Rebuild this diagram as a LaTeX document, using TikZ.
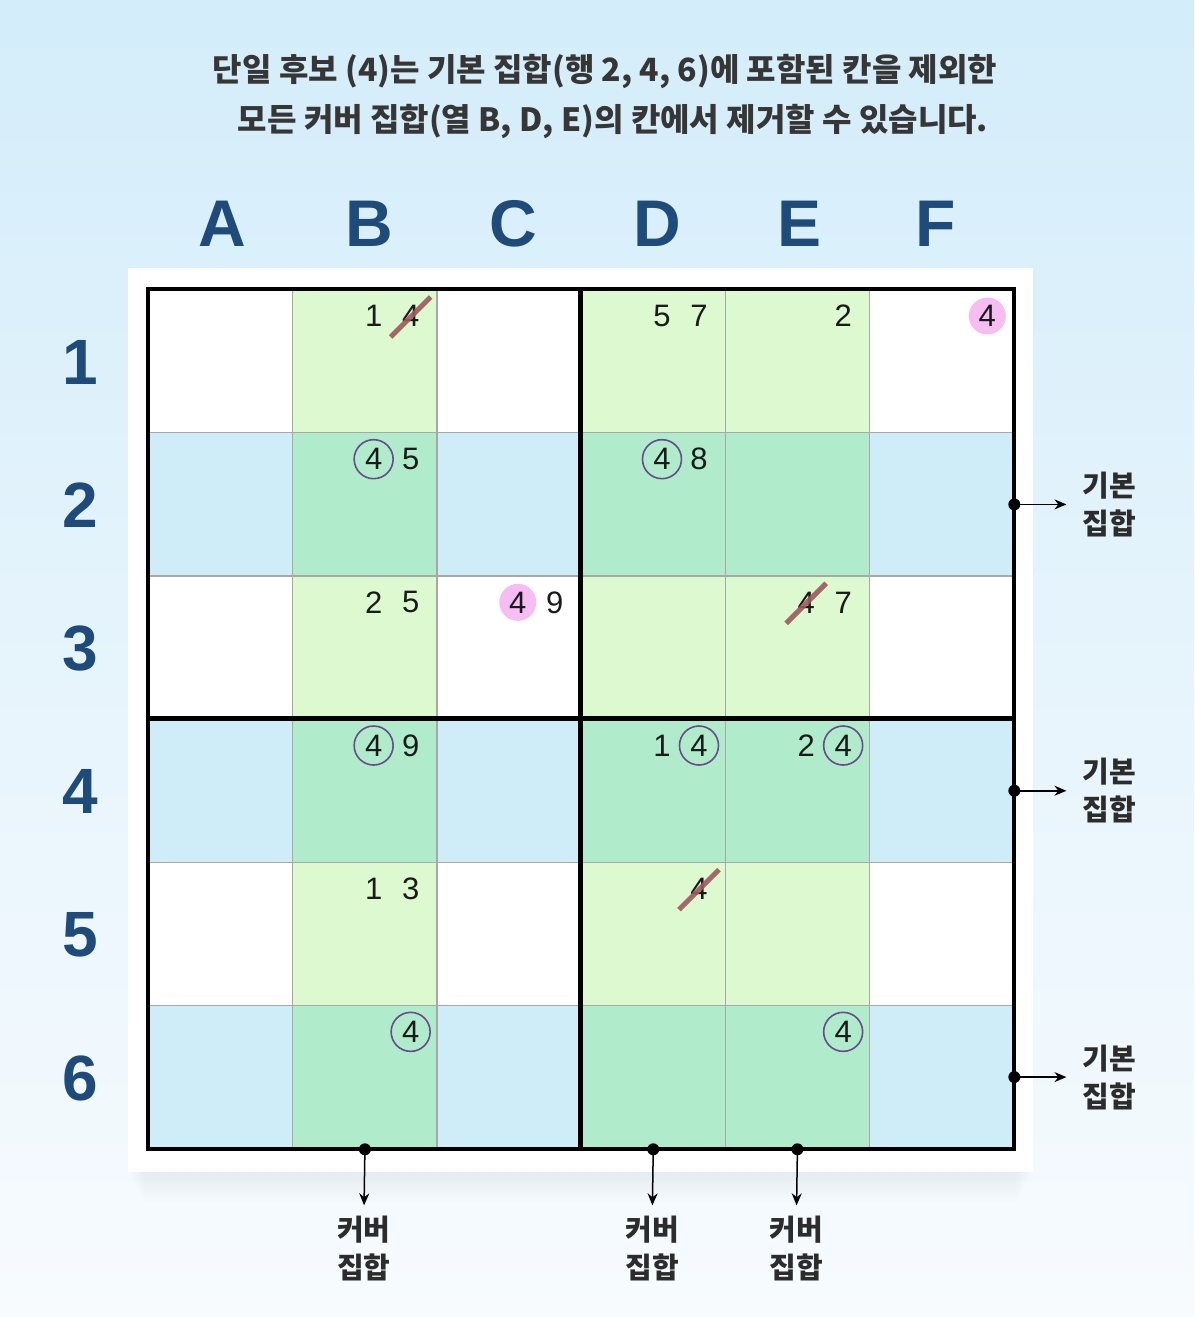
\documentclass[tikz,border=0pt]{standalone}
\usepackage{fontspec}
\setmainfont{Liberation Sans}
\newfontfamily\kr{Noto Sans CJK KR}
\usetikzlibrary{calc,arrows.meta}
\definecolor{bgtop}{HTML}{D3EDFA}
\definecolor{bgmid}{HTML}{E6F4FC}
\definecolor{bgbot}{HTML}{F7FBFE}
\definecolor{fnn}{HTML}{FFFFFF}
\definecolor{fnc}{HTML}{DDF9D0}
\definecolor{fbn}{HTML}{CFEDF8}
\definecolor{fbc}{HTML}{B0ECCC}
\definecolor{gridc}{HTML}{A8A8A8}
\definecolor{headc}{HTML}{1E4B7A}
\definecolor{ringc}{HTML}{6A4A8C}
\definecolor{pinkc}{HTML}{F5BDF2}
\definecolor{strikec}{HTML}{A0585C}
\definecolor{textc}{HTML}{1A1A1A}
\tikzset{
  cell/.style={draw=gridc, line width=1.3pt, anchor=north west, inner sep=0pt,
    minimum width=144.17pt, minimum height=143.17pt},
  boxline/.style={line width=4.2pt, black},
  cand/.style={font=\fontsize{31}{31}\selectfont, inner sep=0pt, text=textc},
  circ/.style={cand, circle, draw=ringc, line width=1.6pt, minimum size=39pt},
  pinkmark/.style={cand, circle, fill=pinkc, minimum size=37pt},
  strike/.style={strikec, line width=5pt, opacity=0.9},
  head/.style={font=\bfseries\fontsize{66}{66}\selectfont, text=headc, inner sep=0pt},
  rowhead/.style={font=\bfseries\fontsize{64}{64}\selectfont, text=headc, inner sep=0pt},
  krlabel/.style={font=\kr\bfseries\fontsize{29}{38}\selectfont, align=center, inner sep=0pt, text=textc!92},
  titletext/.style={font=\kr\bfseries\fontsize{32}{32}\selectfont, inner sep=0pt, text=textc!88},
  pointer/.style={-{Stealth[length=12pt,width=10pt]}, line width=1.5pt, black},
  dot/.style={circle, fill=black, inner sep=0pt, minimum size=12pt},
}
\begin{document}
\begin{tikzpicture}[x=1pt,y=-1pt]
\useasboundingbox (0,0) rectangle (1194,1317);
\shade[top color=bgtop, bottom color=bgbot, middle color=bgmid] (0,0) rectangle (1194,1317);
% title
\node[titletext] (t1) at (605,72) {단일 후보 (4)는 기본 집합(행 2, 4, 6)에 포함된 칸을 제외한};
\node[titletext] (t2) at (613,122) {모든 커버 집합(열 B, D, E)의 칸에서 제거할 수 있습니다.};
% panel shadow
\foreach \i in {1,...,14}
  \fill[black, opacity=0.0055] ({128+\i*1.2},{268+\i*2.2}) rectangle ({1033-\i*1.2},{1172+\i*2.2});
\fill[white] (128,268) rectangle (1033,1172);
% cells
\foreach \r/\rt [count=\ri from 0] in {1/n,2/b,3/n,4/b,5/n,6/b}
  \foreach \c/\ct [count=\ci from 0] in {A/n,B/c,C/n,D/c,E/c,F/n}
    \node[cell, fill=f\rt\ct] (\c\r) at ({148+\ci*144.17},{289+\ri*143.17}) {};
% thick lines
\draw[boxline] (D1.north west) -- (D6.south west);
\draw[boxline] (A4.north west) -- (F4.north east);
\draw[boxline] (A1.north west) rectangle (F6.south east);
% headers
\foreach \c/\dx in {A/2,B/4,C/4,D/4,E/2,F/-6}
  \node[head] (h\c) at ($(\c1.north)+(\dx,-65)$) {\c};
\foreach \r in {1,...,6}
  \node[rowhead] (r\r) at ($(A\r.west)+(-68,1)$) {\r};
% candidates
\newcommand\candR[4][cand]{\node[#1] (#2) at ($(#3.north east)+(-27,27)$) {#4};}
\newcommand\candL[4][cand]{\node[#1] (#2) at ($(#3.north east)+(-64,27)$) {#4};}
\candL{B1a}{B1}{1} \candR{B1b}{B1}{4}
\candL{D1a}{D1}{5} \candR{D1b}{D1}{7}
\candR{E1a}{E1}{2}
\candR[pinkmark]{F1a}{F1}{4}
\candL[circ]{B2a}{B2}{4} \candR{B2b}{B2}{5}
\candL[circ]{D2a}{D2}{4} \candR{D2b}{D2}{8}
\candL{B3a}{B3}{2} \candR{B3b}{B3}{5}
\candL[pinkmark]{C3a}{C3}{4} \candR{C3b}{C3}{9}
\candL{E3a}{E3}{4} \candR{E3b}{E3}{7}
\candL[circ]{B4a}{B4}{4} \candR{B4b}{B4}{9}
\candL{D4a}{D4}{1} \candR[circ]{D4b}{D4}{4}
\candL{E4a}{E4}{2} \candR[circ]{E4b}{E4}{4}
\candL{B5a}{B5}{1} \candR{B5b}{B5}{3}
\candR{D5a}{D5}{4}
\candR[circ]{B6a}{B6}{4}
\candR[circ]{E6a}{E6}{4}
% strikes
\foreach \n in {B1b,E3a,D5a}
  \draw[strike] ($(\n.center)+(-20,21)$) -- ($(\n.center)+(20,-19)$);
% right pointers (base sets)
\foreach \r in {2,4,6} {
  \coordinate (p\r) at (F\r.east);
  \node[krlabel] (bl\r) at ($(p\r)+(95,0)$) {기본\\집합};
  \draw[pointer, shorten >=16pt] (p\r) -- (bl\r.west);
  \node[dot] at (p\r) {};
}
% bottom pointers (cover sets)
\foreach \c in {B,D,E} {
  \coordinate (q\c) at (\c6.south);
  \node[krlabel, anchor=north] (cl\c) at ($(q\c)+(-1,66)$) {커버\\집합};
  \draw[pointer, shorten >=10pt] (q\c) -- (cl\c.north);
  \node[dot] at (q\c) {};
}
\end{tikzpicture}
\end{document}
